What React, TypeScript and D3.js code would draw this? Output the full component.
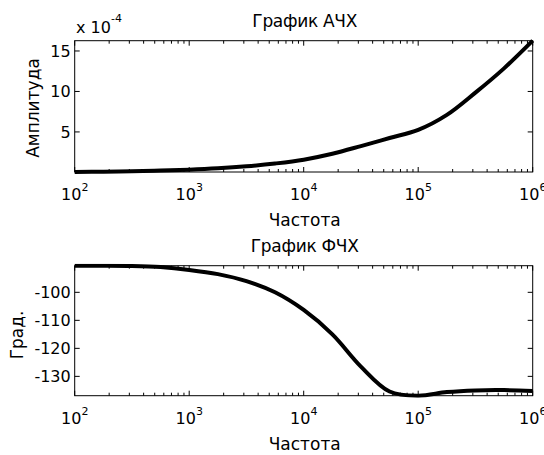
import React from 'react';
import * as d3 from 'd3';

// frequency points (Hz), quarter-decade steps
const freqs = [1e2, 1.78e2, 3.16e2, 5.62e2, 1e3, 1.78e3, 3.16e3, 5.62e3, 1e4, 1.78e4, 3.16e4, 5.62e4, 1e5, 1.78e5, 3.16e5, 5.62e5, 1e6];
// amplitude, x 10^-4
const ampValues = [0.05, 0.09, 0.13, 0.22, 0.33, 0.5, 0.75, 1.1, 1.57, 2.3, 3.25, 4.25, 5.25, 7.1, 9.85, 12.85, 16.27];
// phase, degrees
const phaseValues = [-90.5, -90.5, -90.6, -91.0, -92.0, -93.5, -96.0, -100.0, -106.3, -115.0, -126.5, -135.4, -136.9, -135.6, -135.0, -134.9, -135.2];

const ampTicks = [5, 10, 15];
const phaseTicks = [-100, -110, -120, -130];
const decades = [2, 3, 4, 5, 6];

const W = 544;
const H = 455;
const left = 74.7;
const right = 532.7;
const font = 'DejaVu Sans, sans-serif';

function Panel({ top, bottom, values, yTicks, title, yLabel, yLabelX, yLabelY, multiplier }) {
  const x = d3.scaleLog().domain([1e2, 1e6]).range([left, right]);
  const y = d3.scaleLinear().domain(d3.extent(values)).range([bottom, top]);
  const pts = freqs.map((f, i) => [f, values[i]]);
  const line = d3.line().x(d => x(d[0])).y(d => y(d[1])).curve(d3.curveCatmullRom.alpha(0.5));

  const minor = [];
  for (let e = 2; e < 6; e++) {
    for (let m = 2; m < 10; m++) minor.push(m * Math.pow(10, e));
  }

  return (
    <g>
      <defs>
        <clipPath id={'clip' + top}>
          <rect x={left - 2} y={top - 2} width={right - left + 4} height={bottom - top + 4} />
        </clipPath>
      </defs>
      <path d={line(pts)} fill="none" stroke="#000" strokeWidth={4} clipPath={`url(#clip${top})`} />
      <rect x={left} y={top} width={right - left} height={bottom - top} fill="none" stroke="#000" strokeWidth={1} />
      {minor.map(v => (
        <g key={v}>
          <line x1={x(v)} x2={x(v)} y1={top} y2={top + 3} stroke="#000" />
          <line x1={x(v)} x2={x(v)} y1={bottom} y2={bottom - 3} stroke="#000" />
        </g>
      ))}
      {decades.map(e => (
        <g key={e}>
          <line x1={x(Math.pow(10, e))} x2={x(Math.pow(10, e))} y1={top} y2={top + 5} stroke="#000" />
          <line x1={x(Math.pow(10, e))} x2={x(Math.pow(10, e))} y1={bottom} y2={bottom - 5} stroke="#000" />
          <text x={x(Math.pow(10, e))} y={bottom + 28} textAnchor="middle" fontSize={16} fontFamily={font}>
            10<tspan dy={-9} fontSize={11}>{e}</tspan>
          </text>
        </g>
      ))}
      {yTicks.map(t => (
        <g key={t}>
          <line x1={left} x2={left + 5} y1={y(t)} y2={y(t)} stroke="#000" />
          <line x1={right} x2={right - 5} y1={y(t)} y2={y(t)} stroke="#000" />
          <text x={left - 4} y={y(t) + 6} textAnchor="end" fontSize={16} fontFamily={font}>{t}</text>
        </g>
      ))}
      <text x={(left + right) / 2 + 1} y={top - 14} textAnchor="middle" fontSize={17} fontFamily={font} letterSpacing={-0.3}>{title}</text>
      <text x={(left + right) / 2 + 1} y={bottom + 54} textAnchor="middle" fontSize={17} fontFamily={font}>Частота</text>
      <text transform={`translate(${yLabelX},${yLabelY}) rotate(-90)`} textAnchor="middle" fontSize={17} fontFamily={font}>{yLabel}</text>
      {multiplier && (
        <text x={76} y={top - 7.5} fontSize={16} fontFamily={font}>
          x 10<tspan dy={-11} fontSize={11}>-4</tspan>
        </text>
      )}
    </g>
  );
}

export default function App() {
  return (
    <svg width={W} height={H} style={{ position: 'absolute', left: 0, top: 0, background: '#fff' }}>
      <rect width={W} height={H} fill="#fff" />
      <Panel top={40.7} bottom={172} values={ampValues} yTicks={ampTicks}
        title="График АЧХ" yLabel="Амплитуда" yLabelX={39} yLabelY={108} multiplier />
      <Panel top={265.7} bottom={395.7} values={phaseValues} yTicks={phaseTicks}
        title="График ФЧХ" yLabel="Град." yLabelX={23} yLabelY={335} multiplier={false} />
    </svg>
  );
}
